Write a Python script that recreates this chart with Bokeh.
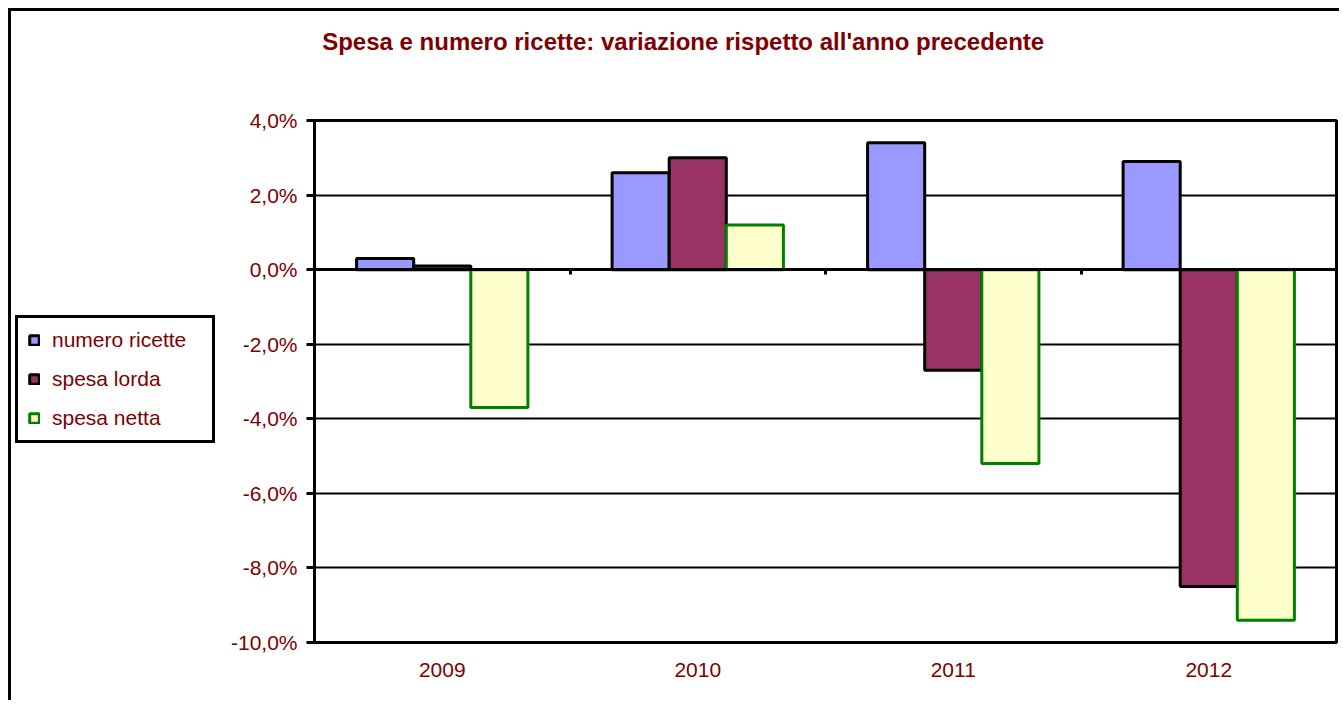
from bokeh.plotting import figure
from bokeh.models import (Range1d, FixedTicker, LinearAxis, Legend, LegendItem,
                          Label, Grid)
from bokeh.layouts import column, row
from bokeh.embed import file_html
from bokeh.resources import INLINE

# ---- data ----
years = ["2009", "2010", "2011", "2012"]
numero_ricette = [0.3, 2.6, 3.4, 2.9]
spesa_lorda = [0.1, 3.0, -2.7, -8.5]
spesa_netta = [-3.7, 1.2, -5.2, -9.4]
series_names = ["numero ricette", "spesa lorda", "spesa netta"]
y_ticks = [-10, -8, -6, -4, -2, 0, 2, 4]
y_tick_labels = ["-10,0%", "-8,0%", "-6,0%", "-4,0%", "-2,0%", "0,0%", "2,0%", "4,0%"]
title_text = "Spesa e numero ricette: variazione  rispetto all'anno precedente"

FONT = "Liberation Sans"
TXT = "#800000"
fills = ["#9999FF", "#993366", "#FFFFCC"]
lines = ["black", "black", "#008000"]

xpos = [i + 1 for i in range(len(years))]
bar_w = 0.2235


def blank(width, height):
    f = figure(width=width, height=height, output_backend="svg",
               toolbar_location=None, x_axis_type=None, y_axis_type=None,
               min_border=0, min_border_left=0, min_border_right=0,
               min_border_top=0, min_border_bottom=0)
    f.outline_line_color = None
    f.background_fill_color = "white"
    f.border_fill_color = "white"
    f.xgrid.visible = False
    f.ygrid.visible = False
    return f


# ---- title strip ----
t = blank(1328, 94)
t.add_layout(Label(x=675, y=64, x_units="screen", y_units="screen",
                   text=title_text, text_align="center", text_baseline="middle",
                   text_font=FONT, text_font_size="24px", text_font_style="bold",
                   text_color=TXT))

# ---- main chart ----
p = figure(width=1112, height=595, x_range=Range1d(0.5, len(years) + 0.5),
           y_range=Range1d(y_ticks[0], y_ticks[-1]),
           output_backend="svg", toolbar_location=None,
           x_axis_type=None, y_axis_type=None,
           min_border_left=85, min_border_right=3,
           min_border_top=15, min_border_bottom=58)
p.background_fill_color = "white"
p.border_fill_color = "white"
p.outline_line_color = "black"
p.outline_line_width = 3

p.add_layout(Grid(dimension=1, ticker=FixedTicker(ticks=y_ticks),
                  grid_line_color="black", grid_line_width=2))

series_vals = [numero_ricette, spesa_lorda, spesa_netta]
offsets = [-bar_w, 0.0, bar_w]
for vals, off, fill, line in zip(series_vals, offsets, fills, lines):
    p.vbar(x=[x + off for x in xpos], top=vals, bottom=0, width=bar_w,
           fill_color=fill, line_color=line, line_width=3)

yax = LinearAxis(ticker=FixedTicker(ticks=y_ticks),
                 major_label_overrides={t_: l for t_, l in zip(y_ticks, y_tick_labels)},
                 axis_line_width=3, major_tick_line_width=3,
                 major_tick_out=8, major_tick_in=0,
                 minor_tick_line_color=None, major_label_standoff=9,
                 major_label_text_font=FONT, major_label_text_font_size="21px",
                 major_label_text_color=TXT)
p.add_layout(yax, "left")

xax = LinearAxis(ticker=FixedTicker(ticks=xpos),
                 major_label_overrides={x: y for x, y in zip(xpos, years)},
                 axis_line_color=None, major_tick_line_color=None,
                 major_tick_out=0, major_tick_in=0, minor_tick_line_color=None,
                 major_label_standoff=20,
                 major_label_text_font=FONT, major_label_text_font_size="21px",
                 major_label_text_color=TXT)
p.add_layout(xax, "below")

bounds = [x + 0.5 for x in xpos[:-1]]
zax = LinearAxis(fixed_location=0, ticker=FixedTicker(ticks=bounds),
                 major_label_overrides={b: "" for b in bounds},
                 axis_line_width=3, major_tick_line_width=3,
                 major_tick_out=5, major_tick_in=0, minor_tick_line_color=None,
                 major_label_standoff=0, major_label_text_font_size="1px")
p.add_layout(zax, "below")

# ---- legend strip (left) ----
lg = blank(216, 595)
lg.x_range = Range1d(0, 1)
lg.y_range = Range1d(0, 1)
items = []
for name, fill, line in zip(series_names, fills, lines):
    # legend swatch only: a zero-size bar hidden behind the opaque legend box
    r = lg.vbar(x=[0.5], top=[0.5], bottom=0.5, width=0.0,
                fill_color=fill, line_color=line, line_width=3)
    items.append(LegendItem(label=name, renderers=[r]))
legend = Legend(items=items, location=(4, 199), orientation="vertical",
                border_line_color="black", border_line_width=3, border_line_alpha=1,
                background_fill_color="white", background_fill_alpha=1,
                label_text_font=FONT, label_text_font_size="21px",
                label_text_color=TXT, glyph_width=12, glyph_height=12,
                label_standoff=12, spacing=15, padding=10, label_width=150,
                label_height=20, margin=0)
lg.add_layout(legend)

layout = column(t, row(lg, p))
layout.styles = {"margin-top": "8px", "margin-left": "8px",
                 "border-top": "3px solid black", "border-left": "3px solid black"}

open("out.html", "w").write(file_html(layout, INLINE))
